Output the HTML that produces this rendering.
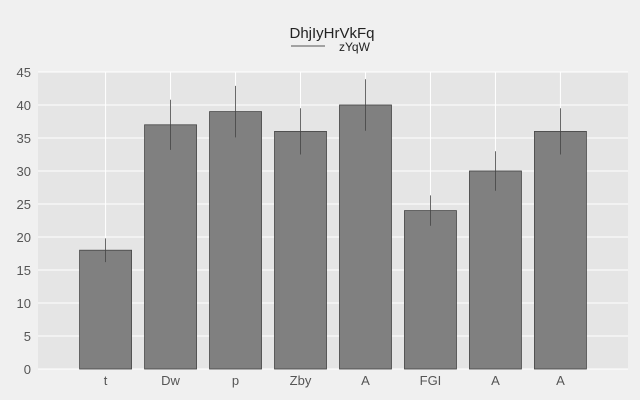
<!DOCTYPE html>
<html><head><meta charset="utf-8"><style>
body{margin:0;background:#f0f0f0;font-family:"Liberation Sans","DejaVu Sans",sans-serif}
svg{display:block}
</style></head><body>
<svg id="chart" width="640" height="400">
<rect width="640" height="400" fill="#f0f0f0"/>
<text x="332" y="38" text-anchor="middle" font-size="15" fill="#222">DhjIyHrVkFq</text>
<line x1="291" y1="46" x2="325" y2="46" stroke="#555" stroke-width="1"/>
<text x="339" y="51" font-size="12" fill="#222">zYqW</text>
<g id="plot"></g>
</svg>
<script>
const categories=["t","Dw","p","Zby","A","FGI","A","A"];
const values=[18,37,39,36,40,24,30,36];
const errors=[1.8,3.8,3.9,3.5,3.9,2.3,3,3.5];
const yTicks=[0,5,10,15,20,25,30,35,40,45];
const L=38,R=628,T=72,B=369;
const x=i=>L+(i+1.04)/9.08*(R-L);
const y=v=>B-v/45*(B-T);
const NS="http://www.w3.org/2000/svg";
const g=document.getElementById('plot');
function mk(t,a,txt){const e=document.createElementNS(NS,t);for(const k in a)e.setAttribute(k,a[k]);if(txt!==undefined)e.textContent=txt;g.appendChild(e);return e;}
let e=mk('rect',{x:L,y:T,width:R-L,height:B-T,fill:'#e5e5e5'});


yTicks.forEach(t=>{
 let l=mk('line',{x1:L,x2:R,y1:y(t),y2:y(t),stroke:'#fff','stroke-width':1});
 
 
 let tx=mk('text',{x:31,y:y(t)+5,'text-anchor':'end','font-size':13,fill:'#555'},String(t));
 
 
});
categories.forEach((c,i)=>{
 let l=mk('line',{x1:x(i),x2:x(i),y1:T,y2:B,stroke:'#fff','stroke-width':1});
 
 
});
categories.forEach((c,i)=>{
 let b=mk('rect',{x:x(i)-26,y:y(values[i]),width:52,height:B-y(values[i]),fill:'#808080',stroke:'#444','stroke-width':0.8});
 
 
 let er=mk('line',{x1:x(i),x2:x(i),y1:y(values[i]+errors[i]),y2:y(values[i]-errors[i]),stroke:'#444','stroke-width':0.8});
 
 
 let tx=mk('text',{x:x(i),y:385,'text-anchor':'middle','font-size':13,fill:'#555'},c);
 
 
});
</script>
</body></html>
